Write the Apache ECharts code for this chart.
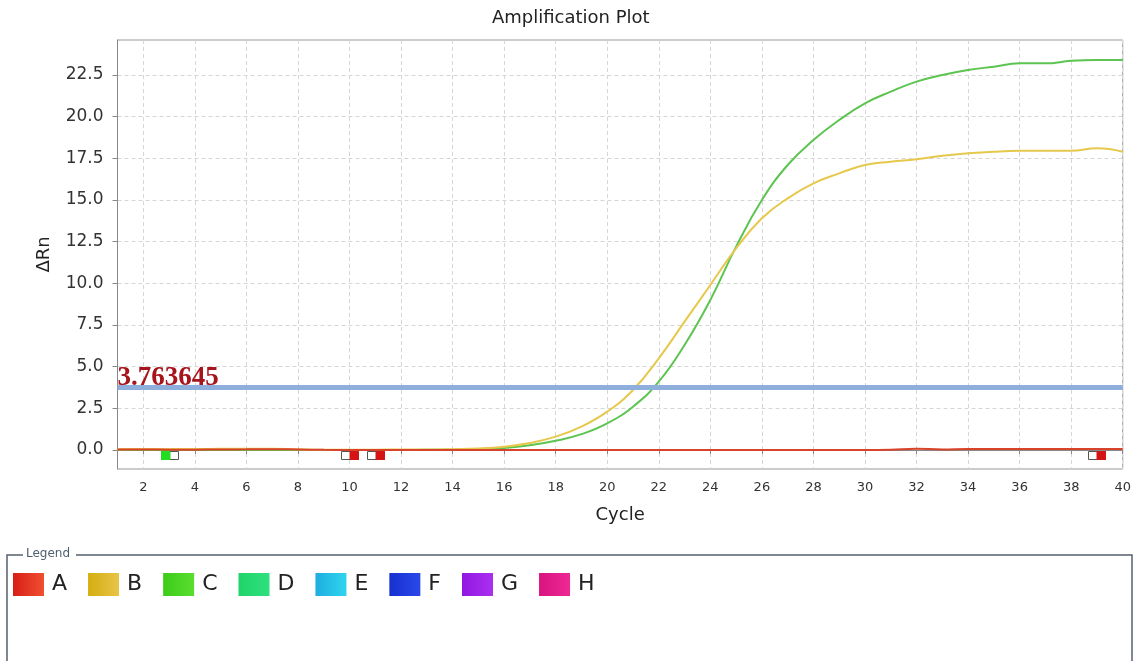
<!DOCTYPE html>
<html>
<head>
<meta charset="utf-8">
<script src="https://cdn.jsdelivr.net/npm/echarts@6/dist/echarts.min.js"></script>
<style>
  html, body { margin: 0; padding: 0; background: #ffffff; }
  #chart { width: 1134px; height: 661px; }
</style>
</head>
<body>
<div id="chart"></div>
<script>
// ---- data ----
const cycles = [1,2,3,4,5,6,7,8,9,10,11,12,13,14,15,16,17,18,19,20,21,22,23,24,25,26,27,28,29,30,31,32,33,34,35,36,37,38,39,40];
const seriesA = [0.03,0.03,0.02,0.02,0.03,0.04,0.05,0.03,0.01,0.0,0.0,0.0,0.0,0.0,0.0,0.0,0.0,0.0,0.0,0.0,0.0,0.0,0.0,0.0,0.0,0.0,0.0,0.0,0.0,0.0,0.02,0.08,0.03,0.06,0.06,0.06,0.06,0.06,0.06,0.06];
const seriesB = [0.05,0.06,0.06,0.06,0.07,0.08,0.08,0.04,0.02,0.02,0.02,0.03,0.03,0.05,0.09,0.2,0.42,0.8,1.4,2.3,3.6,5.5,7.7,9.9,12.1,13.9,15.1,16.0,16.6,17.1,17.3,17.45,17.65,17.8,17.9,17.95,17.95,17.95,18.1,17.9];
const seriesC = [0.0,0.0,0.0,0.0,0.0,0.0,0.0,0.0,0.0,0.0,0.0,0.0,0.01,0.02,0.05,0.12,0.28,0.55,0.95,1.6,2.6,4.1,6.3,9.0,12.2,15.0,17.1,18.6,19.8,20.8,21.5,22.1,22.5,22.8,23.0,23.2,23.2,23.35,23.4,23.4];
const legendNames = ['A','B','C','D','E','F','G','H'];
const threshold = 3.763645;
const xTicks = [2,4,6,8,10,12,14,16,18,20,22,24,26,28,30,32,34,36,38,40];
const yTicks = [0,2.5,5,7.5,10,12.5,15,17.5,20,22.5];
const markerCycles = [3, 10, 11, 39];
const markerValues = [-0.3, -0.3, -0.3, -0.3];
const markerSides = ['left', 'right', 'right', 'right'];
const markerColors = ['#22dd22', '#d41414', '#d41414', '#d41414'];

// ---- styles ----
const FONT = 'DejaVu Sans';
const legendColors = [
  ['#d81e18', '#f05030'],
  ['#d4ae10', '#e8c448'],
  ['#3ccc18', '#5ade30'],
  ['#20d468', '#30e080'],
  ['#1eaee0', '#30d4ee'],
  ['#1830d0', '#2a48e8'],
  ['#9018e0', '#aa30f0'],
  ['#d81480', '#ee2894']
];
const lineColors = {A: '#d8432b', B: '#e6c84c', C: '#5cc450'};

function grad(c) {
  return new echarts.graphic.LinearGradient(0, 0, 1, 0, [
    {offset: 0, color: c[0]}, {offset: 1, color: c[1]}
  ]);
}

const chart = echarts.init(document.getElementById('chart'), null, {renderer: 'canvas'});

const lineSeries = (name, vals) => ({
  name: name,
  type: 'line',
  data: cycles.map((c, i) => [c, vals[i]]),
  smooth: 0.45,
  showSymbol: false,
  symbol: 'none',
  lineStyle: {width: 2, color: lineColors[name]},
  itemStyle: {color: lineColors[name]},
  animation: false,
  z: 3
});

const series = [
  lineSeries('C', seriesC),
  lineSeries('B', seriesB),
  Object.assign(lineSeries('A', seriesA), {
    markLine: {
      silent: true,
      symbol: 'none',
      animation: false,
      lineStyle: {color: '#8eaedb', width: 5, type: 'solid', opacity: 1},
      label: {
        show: true,
        position: 'insideStartTop',
        distance: [0, -4],
        formatter: String(threshold),
        color: '#a8141c',
        fontFamily: 'Liberation Serif',
        fontWeight: 'bold',
        fontSize: 27
      },
      data: [{yAxis: threshold}]
    }
  }),
  {
    name: 'markers',
    type: 'custom',
    animation: false,
    z: 5,
    data: markerCycles.map((c, i) => [c, markerValues[i], i]),
    renderItem: function (params, api) {
      const p = api.coord([api.value(0), api.value(1)]);
      const i = api.value(2);
      const w = 17, h = 8;
      const x0 = Math.round(p[0] - w / 2) + 0.5, y0 = Math.round(p[1] - h / 2) + 0.5;
      const fillX = markerSides[i] === 'left' ? x0 : x0 + w / 2;
      return {
        type: 'group',
        children: [
          {type: 'rect', shape: {x: x0, y: y0, width: w, height: h},
           style: {fill: '#ffffff', stroke: '#555555', lineWidth: 1}},
          {type: 'rect', shape: {x: fillX, y: y0, width: w / 2, height: h},
           style: {fill: markerColors[i], stroke: markerColors[i], lineWidth: 1}}
        ]
      };
    }
  }
];
['D','E','F','G','H'].forEach(n => series.push({name: n, type: 'line', data: [], showSymbol: false}));

const option = {
  backgroundColor: '#ffffff',
  animation: false,
  title: {
    text: 'Amplification Plot',
    left: 487,
    top: 4,
    textStyle: {fontFamily: FONT, fontSize: 18, fontWeight: 'normal', color: '#222'}
  },
  legend: {
    data: legendNames.map((n, i) => ({name: n, itemStyle: {color: grad(legendColors[i])}})),
    left: 13,
    top: 573,
    padding: 0,
    icon: 'rect',
    itemWidth: 31,
    itemHeight: 23,
    itemGap: 21,
    selectedMode: false,
    textStyle: {fontFamily: FONT, fontSize: 22, color: '#222', padding: [0, 0, 0, 3]}
  },
  grid: {
    left: 117.5,
    right: 9,
    top: 40,
    bottom: 192,
    show: true,
    borderColor: '#999',
    borderWidth: 1,
    backgroundColor: '#ffffff'
  },
  xAxis: {
    type: 'value',
    min: 1,
    max: 40,
    name: 'Cycle',
    nameLocation: 'middle',
    nameGap: 37,
    nameTextStyle: {fontFamily: FONT, fontSize: 18, color: '#222'},
    axisLine: {show: true, lineStyle: {color: '#888'}},
    axisTick: {show: true, length: 4, customValues: xTicks, lineStyle: {color: '#888'}},
    axisLabel: {customValues: xTicks, fontFamily: FONT, fontSize: 13, color: '#333', margin: 12},
    splitLine: {show: true, lineStyle: {color: '#d6d6d6', type: [4, 3], width: 1}}
  },
  yAxis: {
    type: 'value',
    min: -1.14,
    max: 24.6,
    name: 'ΔRn',
    nameLocation: 'middle',
    nameRotate: 90,
    nameGap: 64,
    nameTextStyle: {fontFamily: FONT, fontSize: 18, color: '#222'},
    axisLine: {show: true, lineStyle: {color: '#888'}},
    axisTick: {show: true, length: 5, customValues: yTicks, lineStyle: {color: '#888'}},
    axisLabel: {customValues: yTicks, fontFamily: FONT, fontSize: 17, color: '#333', margin: 14,
                formatter: v => Number(v).toFixed(1)},
    splitLine: {show: true, lineStyle: {color: '#d6d6d6', type: [4, 3], width: 1}}
  },
  graphic: [
    {type: 'polyline', silent: true, shape: {points: [[23, 555], [7, 555], [7, 661]]},
     style: {stroke: '#56626e', lineWidth: 1.5, fill: null}},
    {type: 'polyline', silent: true, shape: {points: [[76, 555], [1132, 555], [1132, 661]]},
     style: {stroke: '#56626e', lineWidth: 1.5, fill: null}},
    {type: 'text', silent: true, x: 26, y: 554,
     style: {text: 'Legend', fontFamily: FONT, fontSize: 12, fill: '#4e5e6e', verticalAlign: 'middle', align: 'left'}}
  ],
  series: series
};
chart.setOption(option);
</script>
</body>
</html>
